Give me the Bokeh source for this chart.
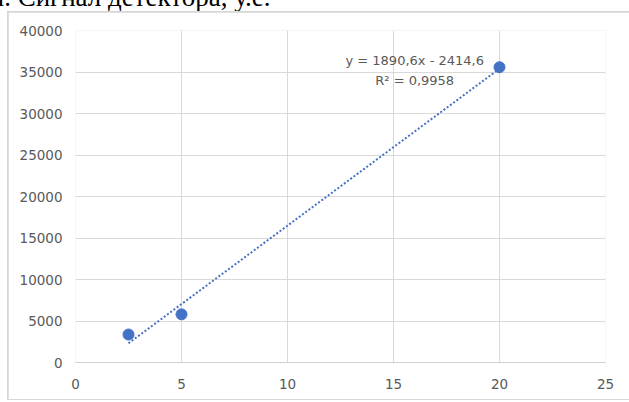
from bokeh.plotting import figure
from bokeh.models import Range1d, FixedTicker, ColumnDataSource, Div
from bokeh.layouts import column
from bokeh.core.properties import value
from bokeh.embed import file_html
from bokeh.resources import INLINE

# Calibration data: concentration vs detector signal
conc = [2.5, 5, 20]
signal = [3373, 5801, 35574]

# Linear trendline as reported
slope = 1890.6
intercept = -2414.6
equation_text = "y = 1890,6x - 2414,6"
r_squared_text = "R² = 0,9958"

x_ticks = [0, 5, 10, 15, 20, 25]
y_ticks = [0, 5000, 10000, 15000, 20000, 25000, 30000, 35000, 40000]

heading = "ы. Сигнал детектора, у.е."

GREY_TEXT = "#595959"
GRID = "#d9d9d9"
BLUE = "#4472C4"
FONT = "DejaVu Sans"

p = figure(
    width=621, height=387,
    x_range=Range1d(0, 25), y_range=Range1d(0, 40000),
    output_backend="svg", toolbar_location=None,
    min_border_left=67, min_border_right=24,
    min_border_top=18, min_border_bottom=37,
    margin=(1, 0, 1, 1),
)
p.outline_line_color = None
p.background_fill_color = "white"
p.border_fill_color = "white"

# axes
p.xaxis.ticker = FixedTicker(ticks=x_ticks)
p.yaxis.ticker = FixedTicker(ticks=y_ticks)
for ax in (p.xaxis[0], p.yaxis[0]):
    ax.major_tick_line_color = None
    ax.minor_tick_line_color = None
    ax.major_tick_out = 0
    ax.major_tick_in = 0
    ax.minor_tick_out = 0
    ax.minor_tick_in = 0
    ax.major_label_text_color = GREY_TEXT
    ax.major_label_text_font = FONT
    ax.major_label_text_font_size = "13.5px"
p.yaxis.axis_line_color = None
p.xaxis.axis_line_color = "#cfcfcf"
p.yaxis.major_label_standoff = 13
p.xaxis.major_label_standoff = 16

p.xgrid.ticker = FixedTicker(ticks=x_ticks)
p.ygrid.ticker = FixedTicker(ticks=y_ticks)
p.xgrid.grid_line_color = GRID
p.ygrid.grid_line_color = GRID

# trendline over the span of the data
x_fit = [min(conc), max(conc)]
y_fit = [slope * x + intercept for x in x_fit]
p.line(x_fit, y_fit, line_color=BLUE, line_width=2, line_dash="2 2")

# measured points
p.scatter(conc, signal, size=11, fill_color=BLUE, line_color=BLUE)

# trendline equation
eq_src = ColumnDataSource(dict(x=[16.0, 16.0], y=[36386, 33976],
                               t=[equation_text, r_squared_text]))
p.text(x="x", y="y", text="t", source=eq_src,
       text_align="center", text_baseline="middle",
       text_color=GREY_TEXT, text_font=value(FONT), text_font_size="13px")

# chart area with a thin grey border (background shows through the margin)
chart_box = column(p, spacing=0, margin=(0, 0, 0, 7),
                   styles={"background-color": "#d6d6d6"})

# document text running above the chart
head = Div(
    width=629, height=11, margin=0,
    styles={"overflow": "hidden"},
    text=('<div style="position:relative; top:-16px; left:-14px; '
          'white-space:nowrap; font-family:\'Liberation Serif\'; '
          'font-size:27px; line-height:27px; color:black;">'
          + heading + '</div>'),
)

root = column(head, chart_box, spacing=0, margin=0)

open("out.html", "w").write(file_html(root, INLINE))
